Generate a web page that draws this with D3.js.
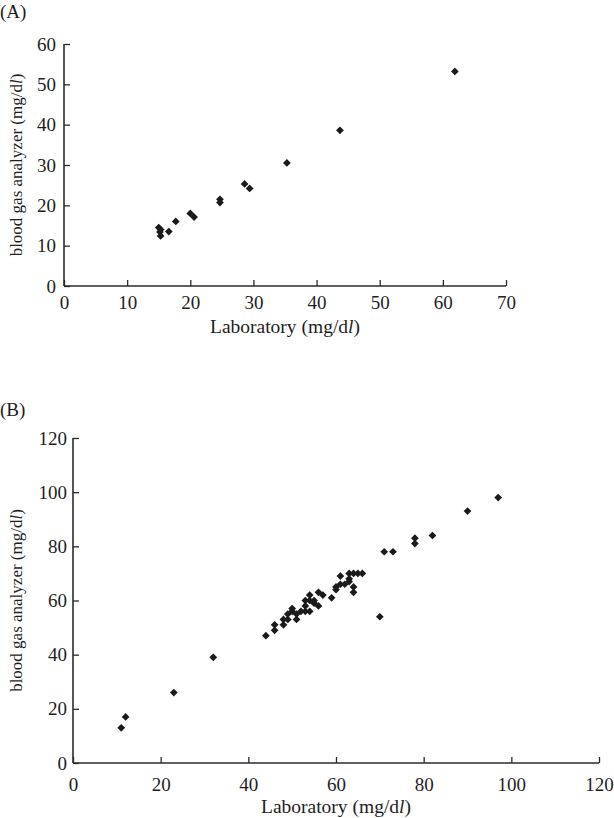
<!DOCTYPE html>
<html><head><meta charset="utf-8">
<script src="https://cdn.jsdelivr.net/npm/d3@7"></script>
<style>
body{margin:0;background:#fff;}
svg{display:block;font-family:"Liberation Serif","DejaVu Serif",serif;}
</style></head><body>
<svg id="c" width="614" height="818"></svg>
<script>
// Panel A data
const labA = [15.0, 15.3, 15.2, 15.3, 16.6, 17.7, 20.0, 20.6, 24.7, 24.7, 28.6, 29.4, 35.3, 43.7, 61.9];
const bgaA = [14.5, 14.0, 13.4, 12.4, 13.5, 16.0, 18.0, 17.1, 21.5, 20.7, 25.3, 24.2, 30.5, 38.6, 53.2];
const xTicksA = [0,10,20,30,40,50,60,70];
const yTicksA = [0,10,20,30,40,50,60];

// Panel B data
const labB = [11,12,23,32,44,46,46,48,48,49,50,49,51,51,50,52,53,53,53,54,54,55,56,56,57,54,55,59,60,60,61,61,62,63,63,64,64,63,64,65,66,70,71,73,78,78,82,90,97];
const bgaB = [13,17,26,39,47,49,51,51,53,55,57,53,55,53,56,56,60,58,56,56,62,59,63,58,62,60,60,61,65,64,69,66,66,68,67,65,63,70,70,70,70,54,78,78,83,81,84,93,98];
const xTicksB = [0,20,40,60,80,100,120];
const yTicksB = [0,20,40,60,80,100,120];

const svg = d3.select("#c");
const ink = "#2b2b2b";

function panel(cfg){
  const g = svg.append("g");
  const x = d3.scaleLinear().domain(cfg.xd).range([cfg.left, cfg.right]);
  const y = d3.scaleLinear().domain(cfg.yd).range([cfg.bottom, cfg.top]);

  const xa = g.append("g").attr("transform",`translate(0,${cfg.bottom})`)
    .call(d3.axisBottom(x).tickValues(cfg.xt).tickSizeInner(-6).tickSizeOuter(0).tickPadding(cfg.xpad));
  const ya = g.append("g").attr("transform",`translate(${cfg.left},0)`)
    .call(d3.axisLeft(y).tickValues(cfg.yt).tickSizeInner(-6).tickSizeOuter(0).tickPadding(cfg.ypad));
  [xa,ya].forEach(a=>{
    a.select(".domain").attr("stroke",ink).attr("stroke-width",1.6);
    a.selectAll(".tick line").attr("stroke",ink).attr("stroke-width",1.3);
    a.selectAll(".tick text").attr("fill","#1e1e1e").style("font-size","19px").style("font-family","'Liberation Serif',serif");
  });
  ya.select(".domain").attr("d",`M0,${cfg.top}V${cfg.bottom}`);
  xa.select(".domain").attr("d",`M${cfg.left},0H${cfg.right}`);

  const sym = d3.symbol().type(d3.symbolSquare).size(30);
  g.append("g").selectAll("path").data(cfg.xs.map((v,i)=>[v,cfg.ys[i]])).join("path")
    .attr("d",sym)
    .attr("transform",d=>`translate(${x(d[0])},${y(d[1])}) rotate(45)`)
    .attr("fill","#1a1a1a");

  // titles
  const xt = g.append("text").attr("x",(cfg.left+cfg.right)/2).attr("y",cfg.xtitleY)
    .attr("text-anchor","middle").style("font-size","19.5px").attr("fill","#1e1e1e");
  xt.append("tspan").text("Laboratory (mg/d");
  xt.append("tspan").attr("font-style","italic").text("l");
  xt.append("tspan").text(")");

  const yt = g.append("text").attr("transform",`translate(${cfg.ytitleX},${(cfg.top+cfg.bottom)/2}) rotate(-90)`)
    .attr("text-anchor","middle").style("font-size","17px").attr("fill","#1e1e1e");
  yt.append("tspan").text("blood gas analyzer (mg/d");
  yt.append("tspan").attr("font-style","italic").text("l");
  yt.append("tspan").text(")");

  g.append("text").attr("x",0).attr("y",cfg.labelY).style("font-size","19px").attr("fill","#1e1e1e").text(cfg.label);
}

panel({xd:[0,70], yd:[0,60], left:64, right:506, top:44, bottom:286,
  xt:xTicksA, yt:yTicksA, xs:labA, ys:bgaA, xpad:10, ypad:8,
  xtitleY:333, ytitleX:22, label:"(A)", labelY:18});

panel({xd:[0,120], yd:[0,120], left:73, right:599, top:438, bottom:763,
  xt:xTicksB, yt:yTicksB, xs:labB, ys:bgaB, xpad:15, ypad:6,
  xtitleY:813, ytitleX:22, label:"(B)", labelY:416});
</script>
</body></html>
